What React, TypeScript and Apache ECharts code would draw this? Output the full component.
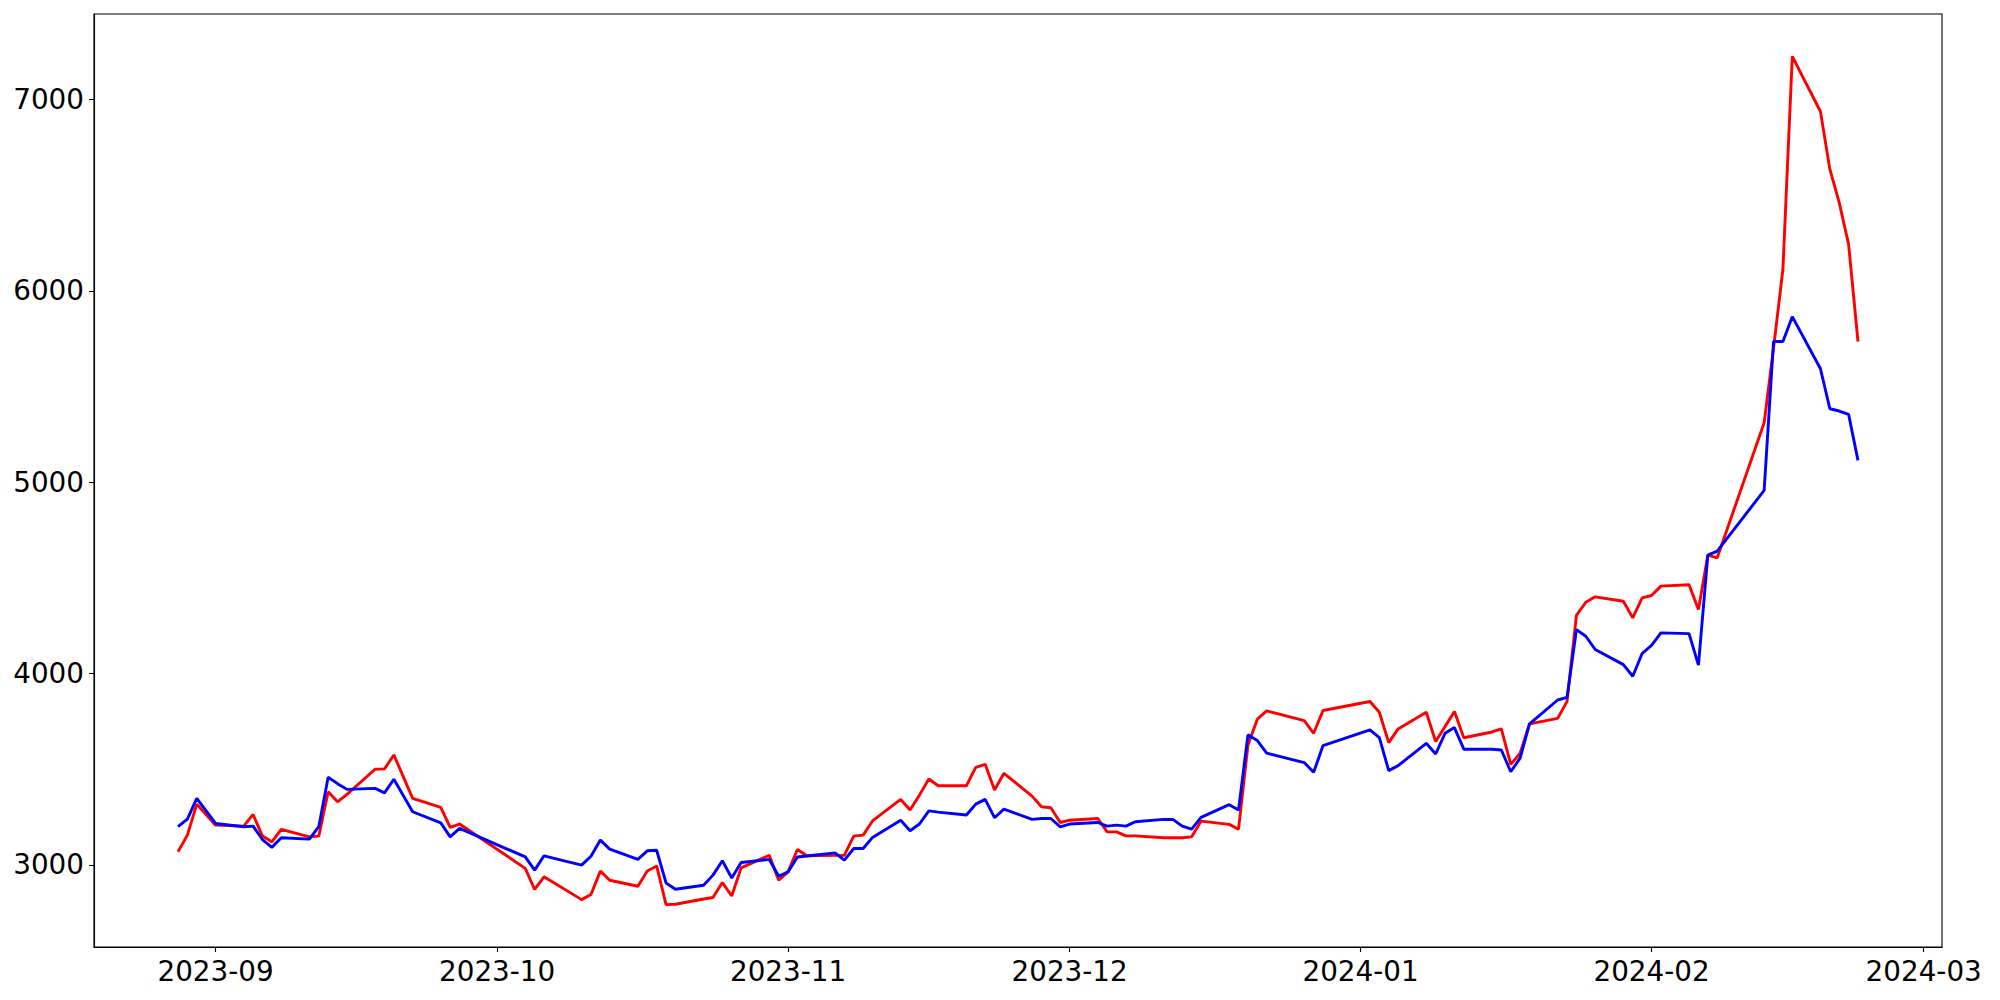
import React, { useEffect, useRef } from "react";
import * as echarts from "echarts";

const dates = [
  "2023-08-28", "2023-08-29", "2023-08-30", "2023-09-01", "2023-09-04", "2023-09-05", "2023-09-06",
  "2023-09-07", "2023-09-08", "2023-09-11", "2023-09-12", "2023-09-13", "2023-09-14", "2023-09-15",
  "2023-09-18", "2023-09-19", "2023-09-20", "2023-09-22", "2023-09-25", "2023-09-26", "2023-09-27",
  "2023-10-04", "2023-10-05", "2023-10-06", "2023-10-10", "2023-10-11", "2023-10-12", "2023-10-13",
  "2023-10-16", "2023-10-17", "2023-10-18", "2023-10-19", "2023-10-20", "2023-10-23", "2023-10-24",
  "2023-10-25", "2023-10-26", "2023-10-27", "2023-10-30", "2023-10-31",
  "2023-11-01", "2023-11-02", "2023-11-03", "2023-11-06", "2023-11-07", "2023-11-08", "2023-11-09",
  "2023-11-10", "2023-11-13", "2023-11-14", "2023-11-15", "2023-11-16", "2023-11-17", "2023-11-20",
  "2023-11-21", "2023-11-22", "2023-11-23", "2023-11-24", "2023-11-27", "2023-11-28", "2023-11-29",
  "2023-11-30",
  "2023-12-01", "2023-12-04", "2023-12-05", "2023-12-06", "2023-12-07", "2023-12-08", "2023-12-11",
  "2023-12-12", "2023-12-13", "2023-12-14", "2023-12-15", "2023-12-18", "2023-12-19", "2023-12-20",
  "2023-12-21", "2023-12-22", "2023-12-26", "2023-12-27", "2023-12-28",
  "2024-01-02", "2024-01-03", "2024-01-04", "2024-01-05", "2024-01-08", "2024-01-09", "2024-01-10",
  "2024-01-11", "2024-01-12", "2024-01-15", "2024-01-16", "2024-01-17", "2024-01-18", "2024-01-19",
  "2024-01-22", "2024-01-23", "2024-01-24", "2024-01-25", "2024-01-26", "2024-01-29", "2024-01-30",
  "2024-01-31",
  "2024-02-01", "2024-02-02", "2024-02-05", "2024-02-06", "2024-02-07", "2024-02-08", "2024-02-13",
  "2024-02-14", "2024-02-15", "2024-02-16", "2024-02-19", "2024-02-20", "2024-02-21", "2024-02-22",
  "2024-02-23",
];

const redValues = [
  3069, 3156, 3318, 3208, 3203, 3264, 3151, 3121, 3186, 3147, 3151, 3383, 3330, 3369, 3500, 3502, 3575, 3348, 3301, 3196, 3214,
  2982, 2872, 2938, 2819, 2846, 2968, 2920, 2889, 2969, 2995, 2793, 2795, 2822, 2830, 2908, 2838, 2985, 3051, 2920,
  2964, 3081, 3048, 3050, 3051, 3151, 3156, 3230, 3343, 3287, 3365, 3449, 3414, 3414, 3510, 3526, 3392, 3479, 3360, 3304, 3299, 3222,
  3234, 3243, 3173, 3173, 3152, 3152, 3142, 3142, 3142, 3147, 3229, 3212, 3187, 3627, 3762, 3805, 3754, 3688, 3807,
  3854, 3798, 3639, 3711, 3798, 3645, 3723, 3802, 3665, 3695, 3711, 3526, 3584, 3737, 3766, 3855, 4304, 4373, 4401, 4378, 4291, 4396,
  4408, 4457, 4464, 4335, 4619, 4605, 5311, 5700, 6113, 7225, 6937, 6636, 6461, 6243, 5735,
];

const blueValues = [
  3200, 3240, 3348, 3217, 3200, 3203, 3133, 3092, 3142, 3135, 3200, 3458, 3425, 3395, 3400, 3377, 3448, 3278, 3220, 3147, 3191,
  3042, 2973, 3048, 2999, 3046, 3130, 3083, 3029, 3074, 3077, 2906, 2873, 2894, 2947, 3022, 2932, 3013, 3029, 2941,
  2964, 3042, 3047, 3063, 3025, 3086, 3086, 3144, 3234, 3179, 3214, 3283, 3276, 3261, 3318, 3343, 3247, 3292, 3238, 3243, 3243, 3199,
  3214, 3222, 3203, 3208, 3203, 3226, 3238, 3238, 3203, 3187, 3249, 3315, 3287, 3680, 3650, 3584, 3535, 3484, 3624,
  3706, 3665, 3493, 3519, 3636, 3580, 3688, 3718, 3605, 3605, 3601, 3487, 3558, 3737, 3862, 3876, 4230, 4195, 4126, 4047, 3986, 4105,
  4147, 4213, 4209, 4044, 4619, 4640, 4957, 5735, 5735, 5865, 5593, 5384, 5372, 5354, 5114,
];

const yTicks = [3000, 4000, 5000, 6000, 7000];
const xTickLabels = ["2023-09", "2023-10", "2023-11", "2023-12", "2024-01", "2024-02", "2024-03"];

const toMs = (s: string) => {
  const [y, m, d] = s.split("-").map(Number);
  return Date.UTC(y, m - 1, d || 1);
};

export default function App() {
  const ref = useRef<HTMLDivElement>(null);
  useEffect(() => {
    if (!ref.current) return;
    const chart = echarts.init(ref.current, null, { renderer: "svg" });
    const xs = dates.map(toMs);
    const x0 = xs[0];
    const x1 = xs[xs.length - 1];
    const xPad = (x1 - x0) * 0.05;
    const all = [...redValues, ...blueValues];
    const y0 = Math.min(...all);
    const y1 = Math.max(...all);
    const yPad = (y1 - y0) * 0.05;
    const xTickValues = xTickLabels.map((l) => toMs(l + "-01"));
    const fmtX = (v: number) => {
      const d = new Date(v);
      return `${d.getUTCFullYear()}-${String(d.getUTCMonth() + 1).padStart(2, "0")}`;
    };
    const font = { color: "#000", fontFamily: "DejaVu Sans", fontSize: 27.8 };
    chart.setOption({
      animation: false,
      backgroundColor: "#ffffff",
      grid: {
        left: 94,
        top: 14,
        width: 1848,
        height: 933,
        show: true,
        borderColor: "#000",
        borderWidth: 1.1,
        backgroundColor: "transparent",
      },
      xAxis: {
        type: "value",
        min: x0 - xPad,
        max: x1 + xPad,
        splitLine: { show: false },
        axisLine: { show: true, onZero: false, lineStyle: { color: "#000", width: 1.1 } },
        axisTick: { show: true, customValues: xTickValues, length: 5, lineStyle: { color: "#000", width: 1.1 } },
        axisLabel: { customValues: xTickValues, formatter: fmtX, margin: 10, ...font },
      },
      yAxis: {
        type: "value",
        min: y0 - yPad,
        max: y1 + yPad,
        splitLine: { show: false },
        axisLine: { show: true, onZero: false, lineStyle: { color: "#000", width: 1.1 } },
        axisTick: { show: true, customValues: yTicks, length: 5, lineStyle: { color: "#000", width: 1.1 } },
        axisLabel: { customValues: yTicks, formatter: (v: number) => String(v), margin: 10, ...font },
      },
      series: [
        {
          type: "line",
          data: xs.map((x, i) => [x, redValues[i]]),
          symbol: "none",
          showSymbol: false,
          lineStyle: { color: "#ff0000", width: 2.9 },
          itemStyle: { color: "#ff0000" },
        },
        {
          type: "line",
          data: xs.map((x, i) => [x, blueValues[i]]),
          symbol: "none",
          showSymbol: false,
          lineStyle: { color: "#0000ff", width: 2.9 },
          itemStyle: { color: "#0000ff" },
        },
      ],
    });
    return () => chart.dispose();
  }, []);
  return (
    <div
      ref={ref}
      style={{ position: "fixed", left: 0, top: 0, width: 2000, height: 1000, background: "#fff" }}
    />
  );
}
